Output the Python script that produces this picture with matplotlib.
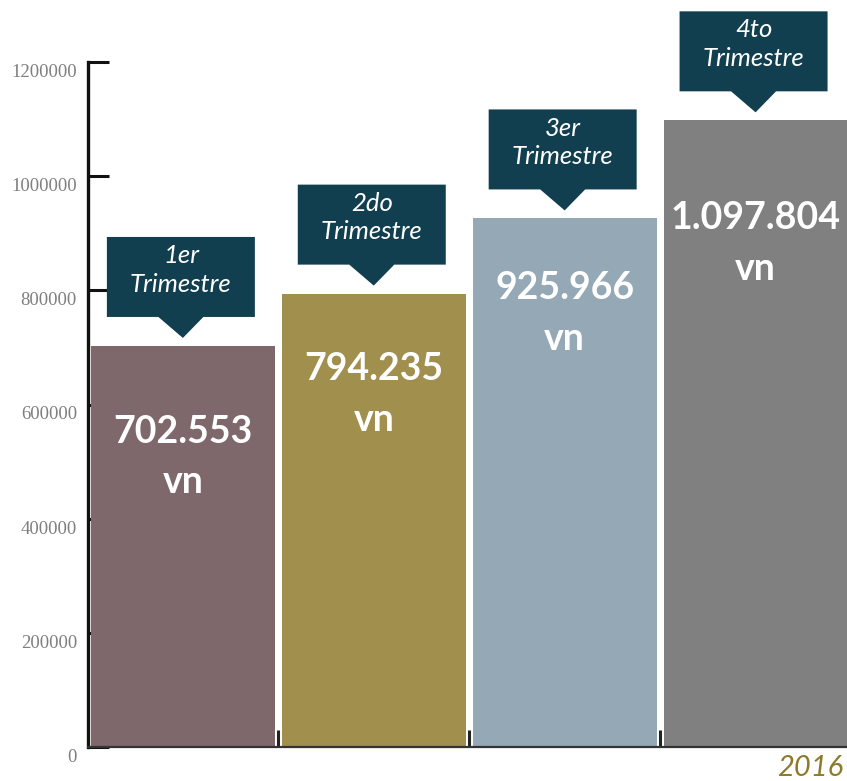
import matplotlib
matplotlib.use("Agg")
import matplotlib.pyplot as plt
from matplotlib.patches import Polygon
import matplotlib.transforms as mtransforms

# ---- data ----
quarters = ["1er\nTrimestre", "2do\nTrimestre", "3er\nTrimestre", "4to\nTrimestre"]
values = [702553, 794235, 925966, 1097804]
value_labels = ["702.553\nvn", "794.235\nvn", "925.966\nvn", "1.097.804\nvn"]
yticks = [0, 200000, 400000, 600000, 800000, 1000000, 1200000]
year_label = "2016"

# ---- style ----
bar_colors = ["#7f686b", "#a18f4e", "#94a9b5", "#808080"]
box_color = "#123f4f"
label_offsets_px = [111, 101, 95, 123]  # vertical position of value labels below bar top

W, H, DPI = 847, 781, 100
fig = plt.figure(figsize=(W / DPI, H / DPI), dpi=DPI)
ax = fig.add_axes([88 / W, 34 / H, (W - 88) / W, 685 / H])

x = list(range(len(values)))
ax.bar(x, values, width=0.963, color=bar_colors, zorder=3)
ax.set_xlim(-0.497, 3.479)
ax.set_ylim(0, 1200000)

for s in ["top", "right"]:
    ax.spines[s].set_visible(False)
ax.spines["left"].set_linewidth(2.4)
ax.spines["left"].set_color("#111111")
ax.spines["bottom"].set_linewidth(1.6)
ax.spines["bottom"].set_color("#333333")
ax.spines["left"].set_zorder(5)
ax.spines["bottom"].set_zorder(5)
ax.set_axisbelow(True)

ax.set_yticks(yticks)
ax.set_yticklabels([str(v) for v in yticks], family="Liberation Serif",
                   fontsize=13.5, color="#7f7f7f")
ax.tick_params(axis="y", direction="in", length=15, width=2.2, color="#111111", pad=8)
ax.set_xticks([0.5, 1.5, 2.5])
ax.set_xticklabels([])
ax.tick_params(axis="x", direction="in", length=12, width=2.2, color="#222222")
shift = mtransforms.ScaledTranslation(0, -6 / 72, fig.dpi_scale_trans)
for lab in ax.get_yticklabels():
    lab.set_transform(lab.get_transform() + shift)

px = 1 / DPI  # inches per pixel
for i, (v, q, vl) in enumerate(zip(values, quarters, value_labels)):
    trans = fig.dpi_scale_trans + mtransforms.ScaledTranslation(i, v, ax.transData)
    bw, bh, gap, tw = 148, 80, 29, 45
    cx = -2
    box = [(cx - bw / 2, gap), (cx - tw / 2, gap), (0, 8), (cx + tw / 2, gap),
           (cx + bw / 2, gap), (cx + bw / 2, gap + bh), (cx - bw / 2, gap + bh)]
    box = [(a * px, b * px) for a, b in box]
    ax.add_patch(Polygon(box, closed=True, facecolor=box_color, edgecolor="none",
                         transform=trans, zorder=6, clip_on=False))
    ax.text(cx * px, (gap + bh / 2 + 7) * px, q, transform=trans, ha="center", va="center",
            color="white", fontsize=18.5, style="italic", family="Lato",
            linespacing=1.3, zorder=7)
    ax.text(0, -label_offsets_px[i] * px, vl, transform=trans, ha="center", va="center",
            color="white", fontsize=27, fontweight="bold", family="Lato",
            linespacing=1.6, zorder=7)

fig.text(843 / W, 1 - 768 / H, year_label, ha="right", va="center", fontsize=21,
         style="italic", color="#8c7b2a", family="Lato")

fig.savefig("out.png", dpi=DPI)
